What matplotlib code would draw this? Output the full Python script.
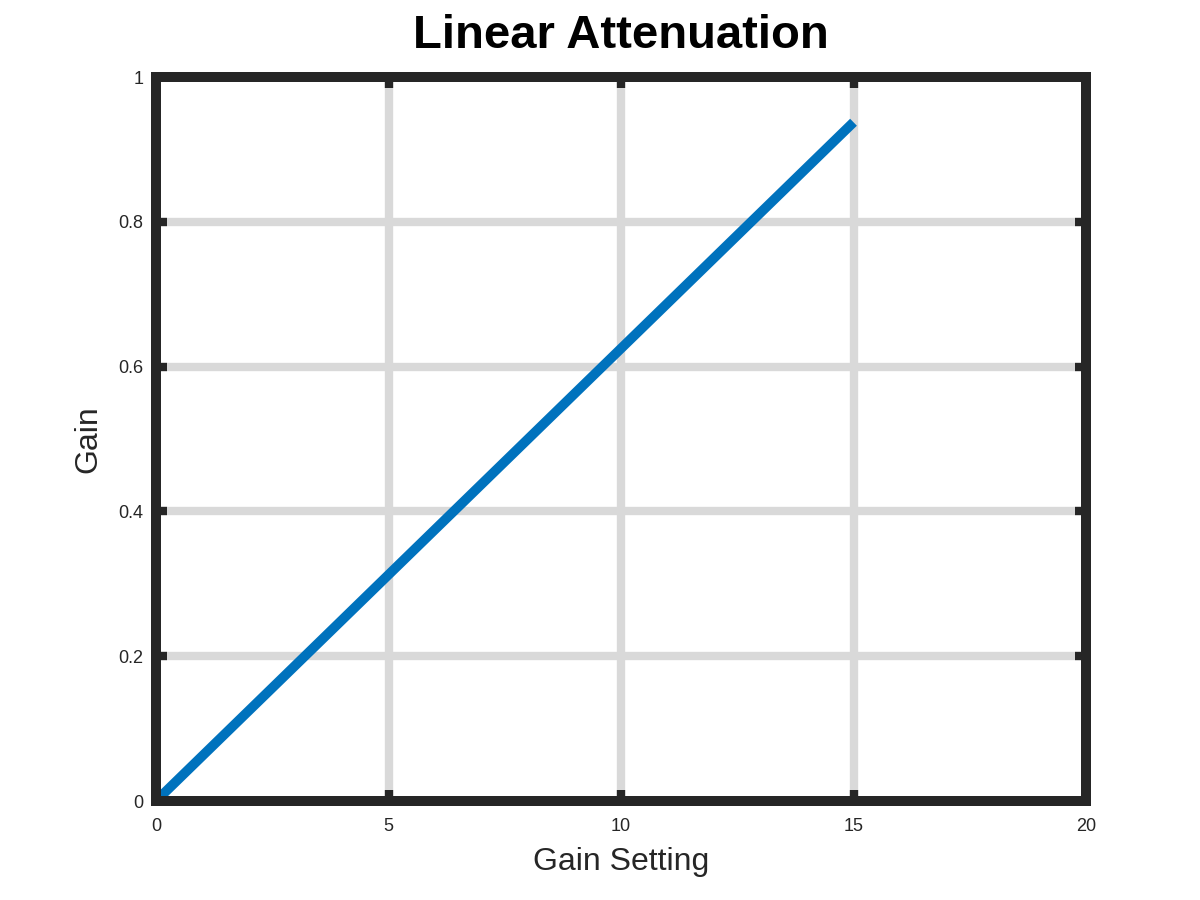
import matplotlib
matplotlib.use("Agg")
import matplotlib.pyplot as plt
import numpy as np

gain_setting = [0, 1, 2, 3, 4, 5, 6, 7, 8, 9, 10, 11, 12, 13, 14, 15]
gain = [0.0, 0.0625, 0.125, 0.1875, 0.25, 0.3125, 0.375, 0.4375, 0.5,
        0.5625, 0.625, 0.6875, 0.75, 0.8125, 0.875, 0.9375]
x_ticks = [0, 5, 10, 15, 20]
y_ticks = [0, 0.2, 0.4, 0.6, 0.8, 1]
y_tick_labels = ["0", "0.2", "0.4", "0.6", "0.8", "1"]

plt.rcParams['font.family'] = ['Liberation Sans', 'DejaVu Sans']
dark = '#262626'

fig = plt.figure(figsize=(12, 9), dpi=100)
ax = fig.add_axes([156/1200, 1 - 801/900, (1086-156)/1200, (801-77)/900])

ax.plot(gain_setting, gain, color='#0072BD', linewidth=7, solid_capstyle='butt', zorder=3)

ax.set_xlim(0, 20)
ax.set_ylim(0, 1)
ax.set_xticks(x_ticks)
ax.set_xticklabels([str(v) for v in x_ticks])
ax.set_yticks(y_ticks)
ax.set_yticklabels(y_tick_labels)

ax.grid(True, color='#d9d9d9', linewidth=6, zorder=0)
ax.set_axisbelow(True)
for s in ax.spines.values():
    s.set_linewidth(7.2)
    s.set_color(dark)
    s.set_zorder(4)
ax.tick_params(direction='in', length=8, width=6, color=dark, labelcolor=dark,
               labelsize=13, top=True, right=True)
ax.tick_params(axis='x', pad=12)
ax.tick_params(axis='y', pad=9)

ax.set_xlabel('Gain Setting', fontsize=23, color=dark, labelpad=9)
ax.set_ylabel('Gain', fontsize=23, color=dark, labelpad=11)
ax.set_title('Linear Attenuation', fontsize=34, fontweight='bold', color='black', pad=21)

fig.savefig('out.png', dpi=100, facecolor='white')
